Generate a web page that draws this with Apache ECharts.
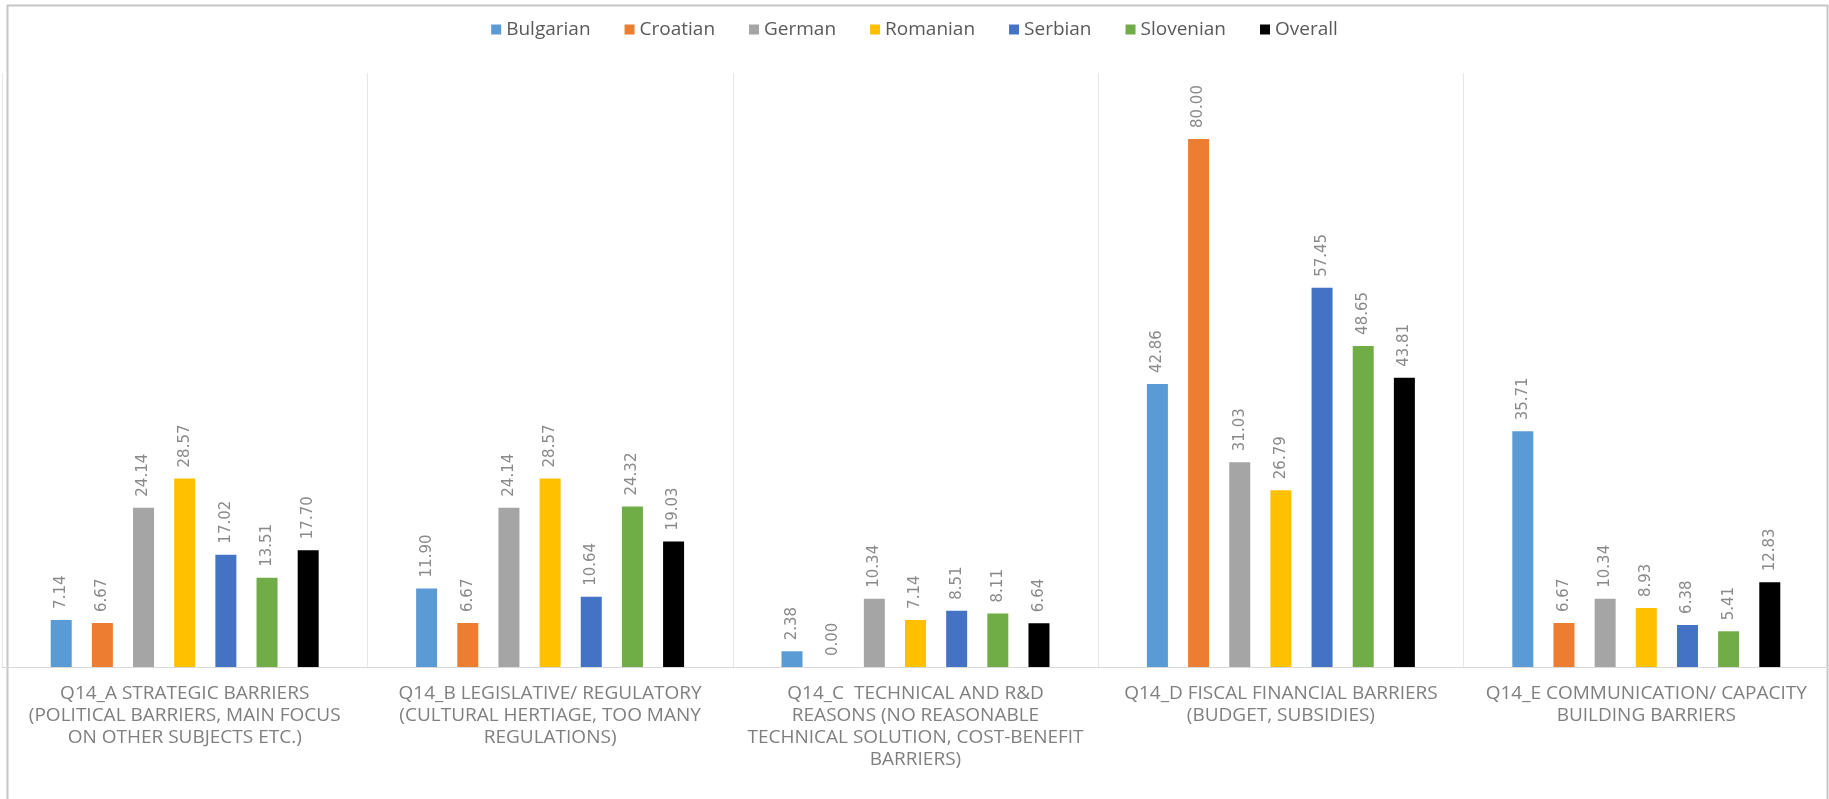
<!DOCTYPE html>
<html>
<head>
<meta charset="utf-8">
<script src="https://cdn.jsdelivr.net/npm/echarts@6/dist/echarts.min.js"></script>
<style>
html,body{margin:0;padding:0;background:#fff;}
#chart{width:1829px;height:799px;}
</style>
</head>
<body>
<div id="chart"></div>
<script>
const categories = [
  "Q14_A STRATEGIC BARRIERS\n(POLITICAL BARRIERS, MAIN FOCUS\nON OTHER SUBJECTS ETC.)",
  "Q14_B LEGISLATIVE/ REGULATORY\n(CULTURAL HERTIAGE, TOO MANY\nREGULATIONS)",
  "Q14_C  TECHNICAL AND R&D\nREASONS (NO REASONABLE\nTECHNICAL SOLUTION, COST-BENEFIT\nBARRIERS)",
  "Q14_D FISCAL FINANCIAL BARRIERS\n(BUDGET, SUBSIDIES)",
  "Q14_E COMMUNICATION/ CAPACITY\nBUILDING BARRIERS"
];
const seriesNames = ["Bulgarian", "Croatian", "German", "Romanian", "Serbian", "Slovenian", "Overall"];
const bulgarian = [7.14, 11.90, 2.38, 42.86, 35.71];
const croatian  = [6.67, 6.67, 0.00, 80.00, 6.67];
const german    = [24.14, 24.14, 10.34, 31.03, 10.34];
const romanian  = [28.57, 28.57, 7.14, 26.79, 8.93];
const serbian   = [17.02, 10.64, 8.51, 57.45, 6.38];
const slovenian = [13.51, 24.32, 8.11, 48.65, 5.41];
const overall   = [17.70, 19.03, 6.64, 43.81, 12.83];

const values = [bulgarian, croatian, german, romanian, serbian, slovenian, overall];
const colors = ["#5B9BD5", "#ED7D31", "#A5A5A5", "#FFC000", "#4472C4", "#70AD47", "#000000"];
const FONT = "'Open Sans', 'Noto Sans', sans-serif";

const chart = echarts.init(document.getElementById('chart'));
chart.setOption({
  animation: false,
  color: colors,
  graphic: [{
    type: 'rect',
    z: -10,
    shape: { x: 7.5, y: 5.5, width: 1820, height: 900 },
    style: { fill: 'none', stroke: '#c6c6c6', lineWidth: 2 }
  }],
  legend: {
    top: 15,
    left: 'center',
    icon: 'rect',
    itemWidth: 10,
    itemHeight: 10,
    itemGap: 34,
    textStyle: { fontFamily: FONT, fontSize: 19, color: '#595959' },
    data: seriesNames
  },
  grid: { left: 2, right: 0, top: 73, bottom: 132, containLabel: false },
  xAxis: {
    type: 'category',
    data: categories,
    axisLine: { lineStyle: { color: '#d9d9d9', width: 1 } },
    axisTick: { show: false },
    splitLine: { show: true, lineStyle: { color: '#e6e6e6', width: 1 } },
    axisLabel: {
      interval: 0,
      margin: 16,
      fontFamily: FONT,
      fontSize: 19,
      lineHeight: 22,
      color: '#7f7f7f',
      align: 'center',
      verticalAlign: 'top'
    }
  },
  yAxis: {
    type: 'value',
    min: 0,
    max: 90,
    show: false,
    splitLine: { show: false }
  },
  series: seriesNames.map((name, i) => ({
    name: name,
    type: 'bar',
    data: values[i],
    barWidth: 21,
    barGap: '96%',
    itemStyle: { color: colors[i] },
    label: {
      show: true,
      position: 'top',
      rotate: 90,
      align: 'left',
      verticalAlign: 'middle',
      distance: 11,
      fontFamily: "'DejaVu Sans', sans-serif",
      fontSize: 15,
      color: '#8a8a8a',
      formatter: p => p.value.toFixed(2)
    }
  }))
});
</script>
</body>
</html>
